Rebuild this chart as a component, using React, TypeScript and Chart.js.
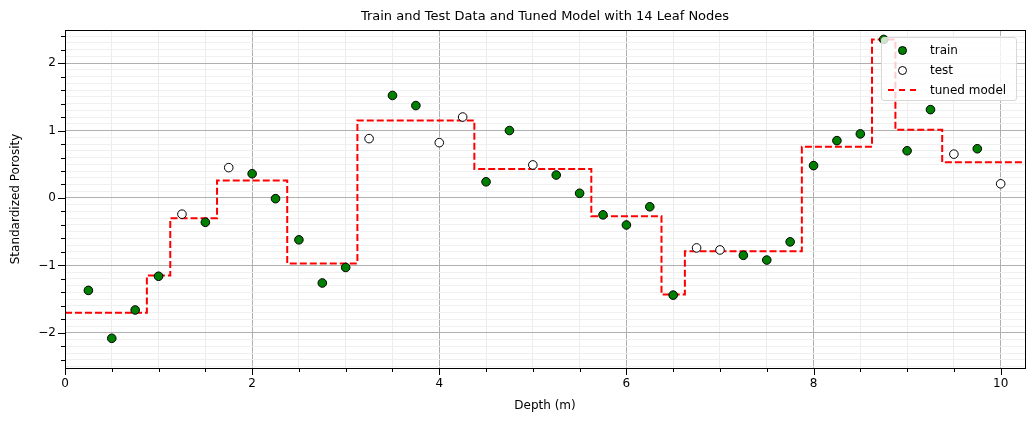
import { useEffect, useRef } from "react"
import { Chart, registerables } from "chart.js"

Chart.register(...registerables)

const trainX = [0.25, 0.5, 0.75, 1.0, 1.5, 2.0, 2.25, 2.5, 2.75, 3.0, 3.5, 3.75, 4.5, 4.75, 5.25, 5.5, 5.75, 6.0, 6.25, 6.5, 7.25, 7.5, 7.75, 8.0, 8.25, 8.5, 8.75, 9.0, 9.25, 9.75]
const trainY = [-1.37, -2.08, -1.66, -1.16, -0.36, 0.36, -0.01, -0.62, -1.26, -1.03, 1.52, 1.37, 0.24, 1.0, 0.34, 0.07, -0.25, -0.4, -0.13, -1.44, -0.85, -0.92, -0.65, 0.48, 0.85, 0.95, 2.35, 0.7, 1.31, 0.73]
const testX = [1.25, 1.75, 3.25, 4.0, 4.25, 5.0, 6.75, 7.0, 9.5, 10.0]
const testY = [-0.24, 0.45, 0.88, 0.82, 1.2, 0.49, -0.74, -0.77, 0.65, 0.21]
const stepX = [0, 0.875, 1.125, 1.625, 2.375, 3.125, 4.375, 5.625, 6.375, 6.625, 7.875, 8.625, 8.875, 9.375, 10.26]
const stepY = [-1.7, -1.15, -0.3, 0.26, -0.97, 1.15, 0.43, -0.27, -1.43, -0.79, 0.76, 2.35, 1.01, 0.53, 0.53]

const font = "'DejaVu Sans', sans-serif"

const extras = {
  id: "extras",
  afterDraw(chart: Chart) {
    const { ctx, chartArea: a, scales } = chart
    const sx = scales.x, sy = scales.y
    ctx.save()
    ctx.strokeStyle = "#000"
    ctx.lineWidth = 1
    ctx.strokeRect(a.left + 0.5, a.top + 0.5, a.right - a.left, a.bottom - a.top)
    ctx.beginPath()
    for (let i = 0; i <= 20; i++) {
      const v = i * 0.5
      const px = Math.round(sx.getPixelForValue(v)) + 0.5
      const len = i % 4 === 0 ? 7 : 4
      ctx.moveTo(px, a.bottom)
      ctx.lineTo(px, a.bottom + len)
    }
    for (let i = -12; i <= 12; i++) {
      const v = i * 0.2
      const py = Math.round(sy.getPixelForValue(v)) + 0.5
      const len = i % 5 === 0 ? 7 : 4
      ctx.moveTo(a.left, py)
      ctx.lineTo(a.left - len, py)
    }
    ctx.stroke()
    ctx.fillStyle = "#000"
    ctx.font = `13px ${font}`
    ctx.textAlign = "center"
    ctx.textBaseline = "middle"
    ctx.fillText("Train and Test Data and Tuned Model with 14 Leaf Nodes", (a.left + a.right) / 2, 17)
    ctx.font = `12px ${font}`
    ctx.fillText("Depth (m)", (a.left + a.right) / 2, 406)
    ctx.translate(16, (a.top + a.bottom) / 2)
    ctx.rotate(-Math.PI / 2)
    ctx.fillText("Standardized Porosity", 0, 0)
    ctx.restore()
  },
}

export default function App() {
  const ref = useRef<HTMLCanvasElement>(null)

  useEffect(() => {
    if (!ref.current) return
    const chart = new Chart(ref.current, {
      type: "scatter",
      data: {
        datasets: [
          {
            label: "tuned model",
            type: "line",
            data: stepX.map((x, i) => ({ x, y: stepY[i] })),
            stepped: "before" as any,
            borderColor: "#ff0000",
            borderWidth: 2,
            borderDash: [7, 3],
            pointRadius: 0,
            fill: false,
            order: 3,
          },
          {
            label: "train",
            data: trainX.map((x, i) => ({ x, y: trainY[i] })),
            backgroundColor: "#008000",
            borderColor: "#000",
            borderWidth: 1,
            pointRadius: 4.3,
            order: 1,
          },
          {
            label: "test",
            data: testX.map((x, i) => ({ x, y: testY[i] })),
            backgroundColor: "#fff",
            borderColor: "#000",
            borderWidth: 1,
            pointRadius: 4.3,
            order: 2,
          },
        ],
      },
      options: {
        animation: false,
        responsive: false,
        layout: { padding: { top: 30, right: 9, left: 0, bottom: 0 } },
        plugins: { legend: { display: false }, tooltip: { enabled: false } },
        scales: {
          x: {
            type: "linear",
            min: 0,
            max: 10.26,
            afterFit: (s: any) => { s.height = 56 },
            afterBuildTicks: (s: any) => {
              const t = []
              for (let i = 0; i <= 20; i++) t.push({ value: i * 0.5 })
              s.ticks = t
            },
            grid: {
              drawTicks: false,
              color: (c: any) => (Math.abs(c.tick?.value % 2) < 1e-6 ? "#b0b0b0" : "#ececec"),
            },
            border: { display: false },
            ticks: {
              padding: 9,
              maxRotation: 0,
              autoSkip: false,
              color: "#000",
              font: { family: font, size: 12 },
              callback: (v: any) => (Math.abs(v % 2) < 1e-6 ? String(v) : ""),
            },
          },
          y: {
            min: -2.52,
            max: 2.49,
            afterFit: (s: any) => { s.width = 65 },
            afterBuildTicks: (s: any) => {
              const t = []
              for (let i = -25; i <= 24; i++) t.push({ value: Math.round(i) / 10 })
              s.ticks = t
            },
            grid: {
              drawTicks: false,
              color: (c: any) => (Math.abs(c.tick?.value - Math.round(c.tick?.value)) < 1e-6 ? "#b0b0b0" : "#f0f0f0"),
            },
            border: { display: false },
            ticks: {
              padding: 9,
              autoSkip: false,
              color: "#000",
              font: { family: font, size: 12 },
              callback: (v: any) => (Math.abs(v - Math.round(v)) < 1e-6 ? (Math.round(v) < 0 ? "−" + Math.abs(Math.round(v)) : String(Math.round(v))) : ""),
            },
          },
        },
      },
      plugins: [extras],
    })
    return () => chart.destroy()
  }, [])

  const item = { display: "flex", alignItems: "center", height: 20 } as const
  return (
    <div style={{ position: "fixed", left: 0, top: 0, width: 1034, height: 424, background: "#fff" }}>
      <canvas ref={ref} width={1034} height={424} style={{ width: 1034, height: 424 }} />
      <div style={{ position: "absolute", left: 881, top: 37, width: 136, height: 64, background: "rgba(255,255,255,0.8)", border: "1px solid #d8d8d8", borderRadius: 3, fontFamily: font, fontSize: 12, padding: "2px 0 0 6px", boxSizing: "border-box" }}>
        <div style={item}>
          <span style={{ width: 28, display: "flex", justifyContent: "center" }}><span style={{ width: 7, height: 7, borderRadius: "50%", background: "#008000", border: "1px solid #000" }} /></span>
          <span style={{ marginLeft: 14 }}>train</span>
        </div>
        <div style={item}>
          <span style={{ width: 28, display: "flex", justifyContent: "center" }}><span style={{ width: 7, height: 7, borderRadius: "50%", background: "#fff", border: "1px solid #000" }} /></span>
          <span style={{ marginLeft: 14 }}>test</span>
        </div>
        <div style={item}>
          <span style={{ width: 28, borderTop: "2px dashed #ff0000" }} />
          <span style={{ marginLeft: 14 }}>tuned model</span>
        </div>
      </div>
    </div>
  )
}
